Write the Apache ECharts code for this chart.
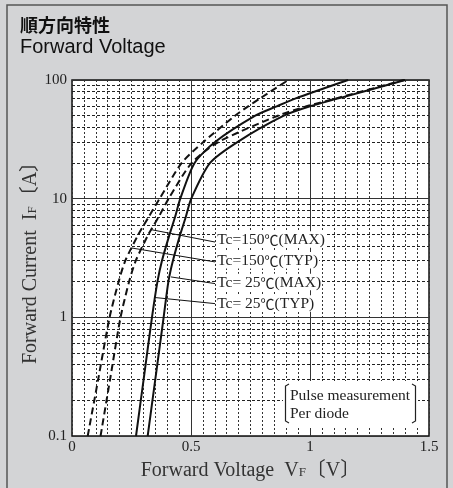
<!DOCTYPE html>
<html><head><meta charset="utf-8">
<script src="https://cdn.jsdelivr.net/npm/echarts@6/dist/echarts.min.js"></script>
<style>html,body{margin:0;padding:0;background:#d3d4d6}#c{width:453px;height:488px}</style>
</head><body><div id="c"></div>
<script>
// ---- data ----
const currents = [0.1, 0.3, 1, 2, 3, 5, 7, 10, 20, 30, 50, 60, 70, 100]; // IF [A]
const vf150Typ = [0.066, 0.110, 0.158, 0.196, 0.224, 0.279, 0.322, 0.368, 0.461, 0.552, 0.685, 0.74, 0.79, 0.909];
const vf150Max = [0.120, 0.160, 0.204, 0.240, 0.268, 0.321, 0.364, 0.406, 0.503, 0.615, 0.865, 0.985, 1.11, 1.395];
const vf25Typ  = [0.269, 0.301, 0.336, 0.359, 0.378, 0.410, 0.433, 0.455, 0.515, 0.601, 0.77, 0.86, 0.94, 1.16];
const vf25Max  = [0.318, 0.350, 0.385, 0.405, 0.424, 0.455, 0.478, 0.501, 0.58, 0.695, 0.89, 1.00, 1.12, 1.40];
const xLabelValues = [0, 0.5, 1, 1.5];
const xMajorLines = [0.5, 1];
const yMinorLines = [0.2,0.3,0.4,0.5,0.6,0.7,0.8,0.9,2,3,4,5,6,7,8,9,20,30,40,50,60,70,80,90];
const seriesNames = ['Tc=150℃(MAX)', 'Tc=150℃(TYP)', 'Tc= 25℃(MAX)', 'Tc= 25℃(TYP)'];
const labelTemps = ['150', '150', ' 25', ' 25'];
const labelKinds = ['MAX', 'TYP', 'MAX', 'TYP'];
// annotation: label anchor [V, I], arrow start [V, I], arrow tip [V, I]
const labelAnchors = [[0.606, 4.52], [0.606, 3.02], [0.606, 1.985], [0.606, 1.305]];
const arrowStarts  = [[0.601, 4.31], [0.601, 2.93], [0.601, 1.924], [0.601, 1.305]];
const arrowTips    = [[0.331, 5.49], [0.251, 3.84], [0.416, 2.19], [0.352, 1.466]];

const serif = '"Liberation Serif", "Noto Sans CJK JP", serif';
const cjk = '"Noto Sans CJK JP", serif';
function pairs(vs){ return vs.map((v,i)=>[v, currents[i]]); }
const curveDefs = [
  {d: vf150Max, dash: [7,4]},
  {d: vf150Typ, dash: [7,4]},
  {d: vf25Max, dash: 'solid'},
  {d: vf25Typ, dash: 'solid'}
];

const chart = echarts.init(document.getElementById('c'));
const series = [];
// grid overlay lines
series.push({
  type: 'line', data: [], silent: true, z: 1,
  markLine: {
    silent: true, symbol: 'none', animation: false,
    label: {show: false},
    data: [
      ...yMinorLines.map(v => ({yAxis: v, lineStyle: {color: '#222', width: 1, type: [3,2]}})),
      ...xMajorLines.map(v => ({xAxis: v, lineStyle: {color: '#333', width: 1, type: 'solid'}}))
    ]
  }
});
curveDefs.forEach((c, i) => {
  series.push({
    name: seriesNames[i], type: 'line', data: pairs(c.d), smooth: 0.25,
    showSymbol: false, symbol: 'none', z: 5, animation: false,
    lineStyle: {color: '#111', width: 2, type: c.dash}
  });
});
// annotations: arrows + labels
series.push({
  type: 'line', data: [], z: 8, silent: true,
  markLine: {
    silent: true, animation: false, symbol: ['none','arrow'], symbolSize: [0, 7],
    label: {show: false},
    lineStyle: {color: '#111', width: 1, type: 'solid'},
    data: arrowStarts.map((s, i) => [{coord: s}, {coord: arrowTips[i]}])
  },
  markPoint: {
    silent: true, animation: false, symbol: 'circle', symbolSize: 0,
    data: labelAnchors.map((a, i) => ({
      coord: a,
      label: {
        show: true, position: 'right', distance: 0,
        formatter: '{a|Tc=' + labelTemps[i] + '}{c|℃}{a|(' + labelKinds[i] + ')}',
        backgroundColor: '#fff', padding: [1, 1, 0, 1],
        rich: {
          a: {fontFamily: serif, fontSize: 15.5, color: '#222'},
          c: {fontFamily: cjk, fontSize: 14, color: '#222'}
        }
      }
    }))
  }
});

chart.setOption({
  backgroundColor: '#d3d4d6',
  animation: false,
  grid: {left: 72, right: 24, top: 80, bottom: 52, show: true, backgroundColor: '#fff', borderColor: '#111', borderWidth: 1.5, containLabel: false},
  xAxis: {
    type: 'value', min: 0, max: 1.5, interval: 0.05,
    axisLine: {show: false}, axisTick: {show: false},
    splitLine: {show: true, lineStyle: {color: '#333', width: 1, type: [2,2]}},
    axisLabel: {
      margin: 4, fontFamily: serif, fontSize: 15, color: '#222',
      formatter: v => { const hit = xLabelValues.find(t => Math.abs(t - v) < 1e-6); return hit === undefined ? '' : String(hit); }
    },
    name: '{a|Forward Voltage  V}{s|F}{a|〔V〕}', nameLocation: 'middle', nameGap: 25, nameMoveOverlap: false,
    nameTextStyle: {rich: {a: {fontFamily: serif, fontSize: 20, color: '#333'}, s: {fontFamily: serif, fontSize: 13, color: '#333', padding: [3,0,0,0]}}}
  },
  yAxis: {
    type: 'log', logBase: 10, min: 0.1, max: 100,
    axisLine: {show: false}, axisTick: {show: false},
    splitLine: {show: true, lineStyle: {color: '#333', width: 1, type: 'solid'}},
    axisLabel: {margin: 5, fontFamily: serif, fontSize: 15, color: '#222', formatter: v => String(+v.toPrecision(3))},
    name: '{a|Forward Current  I}{s|F}{a|〔A〕}', nameLocation: 'middle', nameGap: 31, nameRotate: 90, nameMoveOverlap: false,
    nameTextStyle: {rich: {a: {fontFamily: serif, fontSize: 20, color: '#333'}, s: {fontFamily: serif, fontSize: 13, color: '#333', padding: [3,0,0,0]}}}
  },
  graphic: [
    {type: 'rect', shape: {x: 7, y: 5, width: 440, height: 500}, style: {fill: 'none', stroke: '#555', lineWidth: 1.5}, z: 0, silent: true},
    {type: 'text', left: 20, top: 16, style: {text: '順方向特性', font: 'bold 18px "Noto Sans CJK JP", sans-serif', fill: '#111'}},
    {type: 'text', left: 20, top: 37, style: {text: 'Forward Voltage', font: '20px "Liberation Sans", Arial, sans-serif', fill: '#111'}},
    {type: 'rect', shape: {x: 283, y: 381, width: 135, height: 47}, style: {fill: '#fff'}, z: 10, silent: true},
    {type: 'polyline', shape: {points: [[289,384],[285.5,386],[285.5,421],[289,423]]}, style: {stroke: '#222', lineWidth: 1.2, fill: 'none'}, z: 11},
    {type: 'polyline', shape: {points: [[412,384],[415.5,386],[415.5,421],[412,423]]}, style: {stroke: '#222', lineWidth: 1.2, fill: 'none'}, z: 11},
    {type: 'text', x: 290, y: 395.5, style: {text: 'Pulse measurement', font: '15.5px ' + serif, fill: '#222', textVerticalAlign: 'middle'}, z: 11},
    {type: 'text', x: 290, y: 413.5, style: {text: 'Per diode', font: '15.5px ' + serif, fill: '#222', textVerticalAlign: 'middle'}, z: 11}
  ],
  series: series
});
</script></body></html>
